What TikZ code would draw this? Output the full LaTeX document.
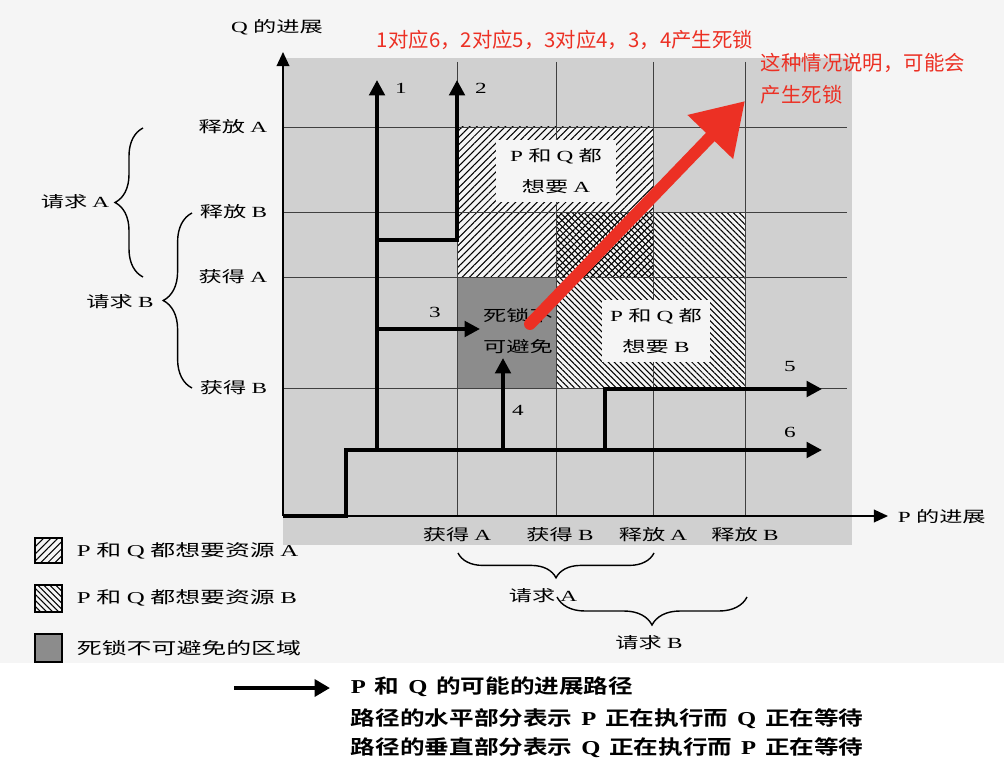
\documentclass[tikz,border=0pt]{standalone}
\usepackage{fontspec}
\setmainfont{Noto Sans CJK SC}[BoldFont={Noto Sans CJK SC Bold}]
\newfontfamily\scan{Noto Sans CJK SC}[FakeStretch=1.5]
\newfontfamily\lat{Liberation Serif}[FakeStretch=1.5]
\newfontfamily\capcjk{Noto Sans CJK SC}[FakeStretch=1.25, BoldFont={Noto Sans CJK SC Bold}]
\newfontfamily\caplat{Liberation Serif}[FakeStretch=1.25]
\newcommand\capletter[1]{\hspace{0.45em}{\caplat\bfseries #1}\hspace{0.45em}}
\usetikzlibrary{arrows.meta,patterns.meta,decorations.pathreplacing}
\definecolor{notered}{RGB}{236,48,36}
\definecolor{scangray}{RGB}{208,208,208}
\definecolor{deadgray}{RGB}{140,140,140}
\tikzset{
    gridline/.style={draw=black!75, line width=0.6pt},
    route/.style={line width=2.6pt, -{Triangle[length=11pt,width=11pt]}},
    hatchA/.style={pattern={Lines[angle=45,distance=3.6pt,line width=0.75pt]}},
    hatchB/.style={pattern={Lines[angle=-45,distance=3pt,line width=0.75pt]}},
    lab/.style={font=\scan\fontsize{11}{22}\selectfont},
    note/.style={text=notered, font=\fontsize{14.5}{17}\selectfont},
    caption/.style={anchor=west, font=\capcjk\fontsize{14}{16}\selectfont\bfseries},
    curly/.style={decorate, decoration={brace, amplitude=#1}, line width=1pt},
}

\begin{document}
\begin{tikzpicture}[x=0.025cm, y=-0.025cm]
    \useasboundingbox (0,0) rectangle (1004,768);
    \fill[black!4] (0,0) rectangle (1004,663);
    \fill[scangray] (283,58) rectangle (852,545);

    \fill[gray!8] (457,127) rectangle (653,277);
    \fill[gray!8] (556,212) rectangle (745,388);
    \fill[deadgray] (457,277) rectangle (556,388);
    \path[hatchA] (457,127) rectangle (653,277);
    \path[hatchB] (556,212) rectangle (745,388);

    \foreach \x in {457,556,653,745}
        \draw[gridline] (\x,62) -- (\x,516);
    \foreach \y in {127,212,277,388}
        \draw[gridline] (283,\y) -- (847,\y);

    \draw[line width=1.1pt, -{Triangle[length=10pt,width=9pt]}] (283,516) -- (283,52);
    \draw[line width=1.1pt, -{Triangle[length=10pt,width=9pt]}] (283,516) -- (888,516);
    \node[lab] (qprog) at (277,27) {{\lat Q} 的进展};
    \node[lab, anchor=west] (pprog) at (893,517) {{\lat P} 的进展};

    \node[lab, anchor=east] (qrelA) at (272,127) {释放 {\lat A}};
    \node[lab, anchor=east] (qrelB) at (272,212) {释放 {\lat B}};
    \node[lab, anchor=east] (qgetA) at (272,277) {获得 {\lat A}};
    \node[lab, anchor=east] (qgetB) at (272,388) {获得 {\lat B}};

    \draw[curly=0.7cm] (143,277) -- (143,128);
    \node[lab] (qreqA) at (75,202) {请求 {\lat A}};
    \draw[curly=0.72cm] (192,388) -- (192,213);
    \node[lab] (qreqB) at (120,302) {请求 {\lat B}};

    \node[lab] (pgetA) at (457,535) {获得 {\lat A}};
    \node[lab] (pgetB) at (560,535) {获得 {\lat B}};
    \node[lab] (prelA) at (653,535) {释放 {\lat A}};
    \node[lab] (prelB) at (745,535) {释放 {\lat B}};

    \draw[curly=0.62cm] (654,553) -- (458,553);
    \node[lab] (preqA) at (543,596) {请求 {\lat A}};
    \draw[curly=0.7cm] (747,597) -- (557,597);
    \node[lab] (preqB) at (649,643) {请求 {\lat B}};

    \draw[route] (283,516) -- (346,516) -- (346,450) -- (822,450);
    \draw[route] (377,450) -- (377,80);
    \draw[route] (377,240) -- (457,240) -- (457,80);
    \draw[route] (377,329) -- (480,329);
    \draw[route] (503,450) -- (503,358);
    \draw[route] (605,450) -- (605,389) -- (822,389);

    \node[lab] (num1) at (401,88) {\lat 1};
    \node[lab] (num2) at (481,88) {\lat 2};
    \node[lab] (num3) at (435,312) {\lat 3};
    \node[lab] (num4) at (518,410) {\lat 4};
    \node[lab] (num5) at (790,367) {\lat 5};
    \node[lab] (num6) at (790,432) {\lat 6};

    \node[lab, fill=gray!8, minimum width=3cm, minimum height=1.55cm, align=center] (wantA) at (556,171) {{\lat P} 和 {\lat Q} 都\\想要 {\lat A}};
    \node[lab, fill=gray!8, minimum width=2.72cm, minimum height=1.55cm, align=center] (wantB) at (656,331) {{\lat P} 和 {\lat Q} 都\\想要 {\lat B}};
    \node[lab, align=center] (dead) at (518,331) {死锁不\\可避免};

    \draw[notered, line width=8.5pt, line cap=round, -{Triangle[length=1.25cm,width=1.5cm]}] (530,324) -- (745,101);
    \node[note, anchor=west] (rednote) at (372,40) {1对应6，2对应5，3对应4，3，4产生死锁};
    \node[note, anchor=north west, align=left, font=\fontsize{14.5}{23}\selectfont] (redcase) at (756,48) {这种情况说明，可能会\\产生死锁};

    \fill[gray!8] (35,538) rectangle (62,563);
    \path[hatchA, draw=black, line width=1pt] (35,538) rectangle (62,563);
    \fill[gray!8] (35,585) rectangle (62,612);
    \path[hatchB, draw=black, line width=1pt] (35,585) rectangle (62,612);
    \path[draw=black, fill=deadgray, line width=1pt] (35,634) rectangle (62,662);
    \node[lab, anchor=west, font=\scan\fontsize{11.8}{14}\selectfont] (keyA) at (72,551) {{\lat P} 和 {\lat Q} 都想要资源 {\lat A}};
    \node[lab, anchor=west, font=\scan\fontsize{11.8}{14}\selectfont] (keyB) at (72,598) {{\lat P} 和 {\lat Q} 都想要资源 {\lat B}};
    \node[lab, anchor=west, font=\scan\fontsize{11.8}{14}\selectfont] (keyD) at (72,648) {死锁不可避免的区域};

    \draw[line width=3pt, -{Triangle[length=11pt,width=12pt]}] (234,688) -- (330,688);
    \node[caption] (path1) at (346,687) {{\caplat\bfseries P}\hspace{0.45em}和\capletter{Q}的可能的进展路径};
    \node[caption] (path2) at (346,719) {路径的水平部分表示\capletter{P}正在执行而\capletter{Q}正在等待};
    \node[caption] (path3) at (346,748) {路径的垂直部分表示\capletter{Q}正在执行而\capletter{P}正在等待};
\end{tikzpicture}
\end{document}
